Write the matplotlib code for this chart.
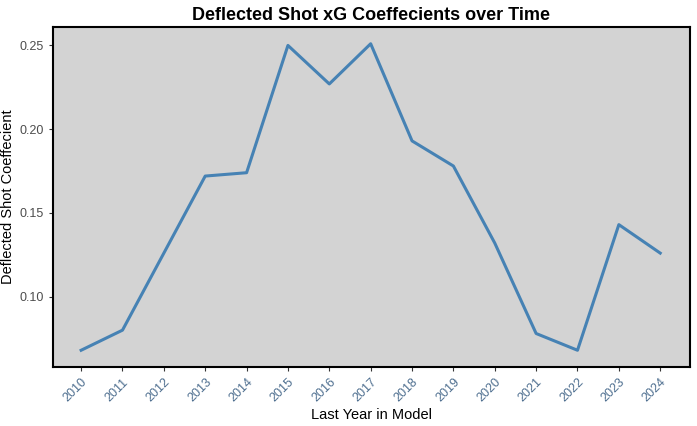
import matplotlib
matplotlib.use("Agg")
import matplotlib.pyplot as plt

plt.rcParams["font.family"] = "Liberation Sans"

years = list(range(2010, 2025))
coef = [0.068, 0.080, 0.126, 0.172, 0.174, 0.250, 0.227, 0.251, 0.193, 0.178, 0.132, 0.078, 0.068, 0.143, 0.126]
yticks = [0.10, 0.15, 0.20, 0.25]

fig = plt.figure(figsize=(6.97, 4.26), dpi=100)
ax = fig.add_axes([53/697, 1-367/426, (690-53)/697, (367-27)/426])
ax.set_facecolor("#D3D3D3")
ax.plot(years, coef, color="steelblue", lw=2.2)
ax.set_xlim(2010-0.68, 2024+0.72)
ax.set_ylim(0.058, 0.261)
ax.set_xticks(years)
ax.set_xticklabels([str(y) for y in years], rotation=45, ha="right", rotation_mode="anchor", fontsize=9, color="#4D6E8F")
ax.set_yticks(yticks)
ax.set_yticklabels([f"{v:.2f}" for v in yticks], fontsize=9, color="#4D4D4D")
for s in ax.spines.values():
    s.set_linewidth(1.5)
    s.set_color("black")
ax.tick_params(length=3, color="#333333")
ax.set_xlabel("Last Year in Model", fontsize=10.5, labelpad=3)
ax.set_ylabel("Deflected Shot Coeffecient", fontsize=10.5, labelpad=3)
ax.set_title("Deflected Shot xG Coeffecients over Time", fontsize=13, fontweight="bold", pad=5)
fig.savefig("out.png", dpi=100)
